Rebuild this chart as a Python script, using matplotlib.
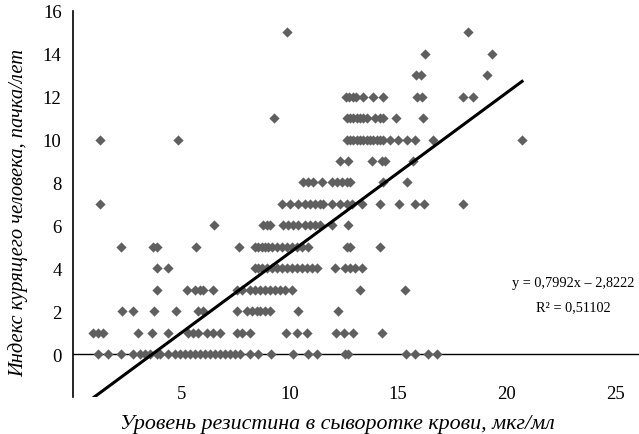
import numpy as np
import matplotlib
matplotlib.use("Agg")
import matplotlib.pyplot as plt

# Значения резистина (мкг/мл) для каждого значения индекса курящего (пачка/лет)
x_at_0 = [1.18, 1.61, 2.21, 2.79, 3.10, 3.33, 3.56, 3.87, 4.02, 4.41, 4.71, 4.94,
          5.18, 5.41, 5.64, 5.87, 6.10, 6.33, 6.56, 6.79, 7.02, 7.25, 7.48, 7.71,
          8.17, 8.55, 9.12, 10.14, 10.86, 11.24, 12.55, 12.70, 15.36, 15.77,
          16.39, 16.77]
x_at_1 = [0.92, 1.18, 1.38, 3.02, 3.64, 4.38, 5.33, 5.56, 5.79, 6.18, 6.48, 6.79,
          7.56, 7.79, 8.17, 9.83, 10.32, 10.81, 12.13, 12.52, 12.90, 14.24]
x_at_2 = [2.26, 2.79, 3.76, 4.76, 5.79, 6.02, 7.56, 8.02, 8.25, 8.48, 8.63, 8.86,
          9.09, 10.40, 12.24]
x_at_3 = [3.90, 5.25, 5.64, 5.87, 6.02, 6.48, 7.56, 7.79, 8.17, 8.40, 8.63, 8.86,
          9.09, 9.32, 9.55, 9.78, 10.09, 13.24, 15.31]
x_at_4 = [3.90, 4.38, 8.40, 8.55, 8.71, 8.94, 9.17, 9.40, 9.63, 9.86, 10.09, 10.32,
          10.55, 10.78, 11.01, 11.24, 12.09, 12.55, 12.78, 13.01, 13.32]
x_at_5 = [2.21, 3.71, 3.87, 5.67, 7.66, 8.40, 8.55, 8.71, 8.86, 9.01, 9.17, 9.40,
          9.63, 9.86, 10.09, 10.32, 10.55, 10.86, 12.63, 12.78, 14.16]
x_at_6 = [6.53, 8.78, 8.94, 9.09, 9.71, 9.94, 10.17, 10.40, 10.71, 10.94, 11.17,
          11.40, 11.94, 12.67]
x_at_7 = [1.26, 9.63, 10.01, 10.40, 10.71, 10.94, 11.17, 11.40, 11.55, 11.94, 12.32,
          12.63, 12.86, 13.32, 14.16, 15.05, 15.77, 16.19, 18.00]
x_at_8 = [10.63, 10.86, 11.09, 11.47, 11.94, 12.17, 12.40, 12.63, 12.78, 14.29, 15.39]
x_at_9 = [12.32, 12.70, 13.78, 14.24, 14.39, 15.70]
x_at_10 = [1.26, 4.84, 12.63, 12.78, 12.93, 13.09, 13.24, 13.39, 13.55, 13.70, 13.85,
           14.01, 14.16, 14.31, 14.62, 15.00, 15.39, 15.77, 16.62, 20.71]
x_at_11 = [9.28, 12.63, 12.78, 12.93, 13.09, 13.24, 13.39, 13.55, 13.93, 14.16,
           14.31, 14.88, 16.16]
x_at_12 = [12.59, 12.75, 12.90, 13.06, 13.39, 13.82, 14.31, 15.85, 16.08, 17.97, 18.46]
x_at_13 = [15.82, 16.04, 19.08]
x_at_14 = [16.24, 19.31]
x_at_15 = [9.86, 18.20]

rows = [x_at_0, x_at_1, x_at_2, x_at_3, x_at_4, x_at_5, x_at_6, x_at_7, x_at_8,
        x_at_9, x_at_10, x_at_11, x_at_12, x_at_13, x_at_14, x_at_15]

# линия тренда, как она нарисована на рисунке (наклон и сдвиг)
trend_slope = 0.746
trend_intercept = -2.74

x_ticks = [5, 10, 15, 20, 25]
y_ticks = [0, 2, 4, 6, 8, 10, 12, 14, 16]
eq_text = "y = 0,7992x \u2013 2,8222"
r2_text = "R\u00b2 = 0,51102"

x = np.concatenate([np.array(r, dtype=float) for r in rows])
y = np.concatenate([np.full(len(r), float(k)) for k, r in enumerate(rows)])

plt.rcParams['font.family'] = ['Liberation Serif', 'DejaVu Serif']

fig = plt.figure(figsize=(6.39, 4.35), dpi=100)
ax = fig.add_axes([0.1138, 0.085, 0.8862, 0.888])

ax.scatter(x, y, marker='D', s=27, color='#5f5f5f', linewidths=0, zorder=3)

xt = np.linspace(x.min(), x.max(), 50)
ax.plot(xt, trend_slope * xt + trend_intercept, color='black', linewidth=2.2,
        zorder=4)

ax.axhline(0, color='black', linewidth=1.0, zorder=2)

ax.set_xlim(0, 26.1)
ax.set_ylim(-2, 16)
ax.set_xticks(x_ticks)
ax.set_yticks(y_ticks)
ax.tick_params(axis='both', length=0, labelsize=13.5)
ax.tick_params(axis='x', pad=-9)
ax.tick_params(axis='y', pad=8)

for side in ['top', 'right', 'bottom']:
    ax.spines[side].set_visible(False)
ax.spines['left'].set_linewidth(1.2)

ax.set_xlabel("Уровень резистина в сыворотке крови, мкг/мл",
              fontsize=15.8, style='italic')
ax.xaxis.set_label_coords(0.467, -0.045)
ax.set_ylabel("Индекс курящего человека, пачка/лет", fontsize=14.8, style='italic')
ax.yaxis.set_label_coords(-0.078, 0.48)

ax.text(23.05, 3.33, eq_text, fontsize=10.3, ha='center', va='center')
ax.text(23.05, 2.22, r2_text, fontsize=10.3, ha='center', va='center')

fig.savefig("out.png", dpi=100)
